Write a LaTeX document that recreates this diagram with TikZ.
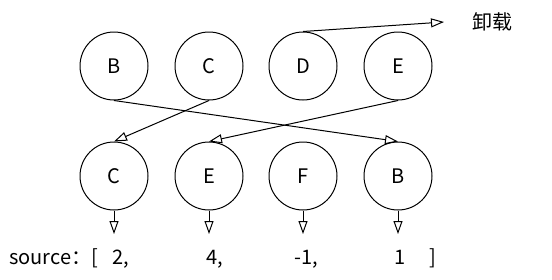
\documentclass[tikz,border=0pt]{standalone}
\usepackage{fontspec}
\setmainfont{Noto Sans CJK SC}
\usetikzlibrary{arrows.meta}
\begin{document}
\begin{tikzpicture}[x=1pt,y=-1pt,
  ball/.style={draw, line width=1pt, circle, minimum size=68pt, inner sep=0pt, font=\fontsize{20}{20}\selectfont},
  conn/.style={draw, line width=1pt, -{Triangle[open,length=13pt,width=9pt]}},
  lbl/.style={font=\fontsize{20}{20}\selectfont, inner sep=0pt}]
\useasboundingbox (0,0) rectangle (552,279);
\node[ball] (tB) at (114,66) {B};
\node[ball] (tC) at (209,66) {C};
\node[ball] (tD) at (303,66) {D};
\node[ball] (tE) at (398,66) {E};
\node[ball] (bC) at (114,176) {C};
\node[ball] (bE) at (209,176) {E};
\node[ball] (bF) at (303,176) {F};
\node[ball] (bB) at (398,176) {B};
\coordinate (unl) at (444,22);
\node[lbl, anchor=west] (xz) at (472,22) {卸载};
\draw[conn] (tB.south) -- (bB.north);
\draw[conn] (tC.south) -- (bC.north);
\draw[conn] (tE.south) -- (bE.north);
\draw[conn] (tD.north) -- (unl);
\node[lbl, anchor=base west] (src) at (9,264) {source：[};
\node[lbl, anchor=base] (v1) at (121,264) {2,};
\node[lbl, anchor=base] (v2) at (215,264) {4,};
\node[lbl, anchor=base] (v3) at (306,264) {-1,};
\node[lbl, anchor=base] (v4) at (400,264) {1};
\node[lbl, anchor=base] (rb) at (433,264) {]};
\coordinate (a1) at (114,234);
\coordinate (a2) at (209,234);
\coordinate (a3) at (303,234);
\coordinate (a4) at (398,234);
\draw[conn] (bC.south) -- (a1);
\draw[conn] (bE.south) -- (a2);
\draw[conn] (bF.south) -- (a3);
\draw[conn] (bB.south) -- (a4);
\end{tikzpicture}
\end{document}
